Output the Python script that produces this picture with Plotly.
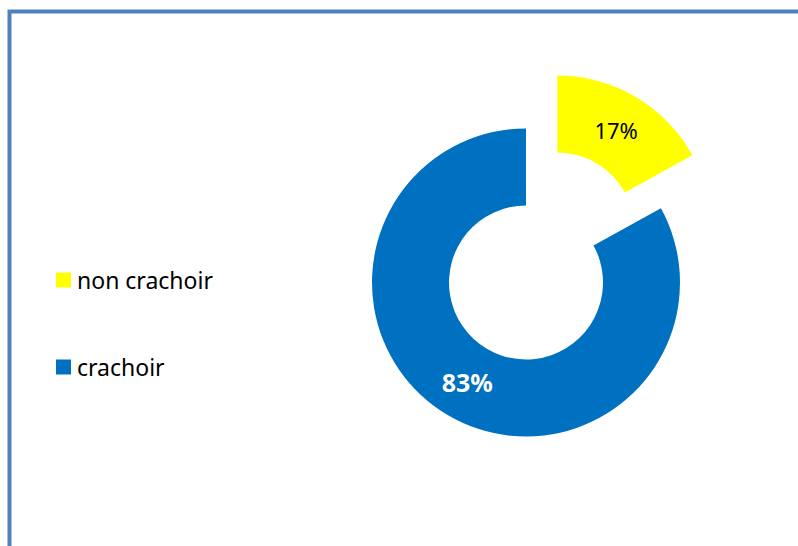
import plotly.graph_objects as go

# Chart data
labels = ["non crachoir", "crachoir"]
values = [17, 83]
colors = ["#FFFF00", "#0070C0"]
text_colors = ["#000000", "#FFFFFF"]
text_templates = ["%{percent}", "<b>%{percent}</b>"]
text_sizes = [22, 25]
pulls = [0.4, 0]

W, H = 798, 546
FONT = "Noto Sans"


def px(x):
    return x / W


def py(y):
    return 1 - y / H


# Donut: outer radius ~154 px, centred at (526, 282.5)
radius = 154
side = radius * (2 + 2 * max(pulls))
cx, cy = 526, 282.5
dom_x = [px(cx - side / 2), px(cx + side / 2)]
dom_y = [py(cy + side / 2), py(cy - side / 2)]

fig = go.Figure(
    go.Pie(
        labels=labels,
        values=values,
        marker=dict(colors=colors, line=dict(width=0)),
        hole=0.5,
        pull=pulls,
        sort=False,
        direction="clockwise",
        rotation=0,
        textinfo="percent",
        texttemplate=text_templates,
        textposition="inside",
        insidetextorientation="horizontal",
        textfont=dict(family=FONT, color=text_colors, size=text_sizes),
        domain=dict(x=dom_x, y=dom_y),
        showlegend=False,
    )
)

# Legend drawn beside the donut
shapes = []
annotations = []
legend_rows = [280, 367]
for lab, col, yc in zip(labels, colors, legend_rows):
    shapes.append(dict(
        type="rect", xref="paper", yref="paper",
        x0=px(56), x1=px(71), y0=py(yc + 7.5), y1=py(yc - 7.5),
        fillcolor=col, line=dict(width=0),
    ))
    annotations.append(dict(
        text=lab, xref="paper", yref="paper",
        x=px(75), y=py(yc), xanchor="left", yanchor="middle",
        showarrow=False, font=dict(family=FONT, size=23, color="#000000"),
    ))

# Frame: top and left edges
shapes.append(dict(
    type="path", xref="paper", yref="paper",
    path=f"M {px(9.5)} {py(560)} L {px(9.5)} {py(11.5)} L {px(820)} {py(11.5)}",
    line=dict(color="#4F81BD", width=4),
))

fig.update_layout(
    width=W, height=H, autosize=False,
    margin=dict(l=0, r=0, t=0, b=0),
    paper_bgcolor="#FFFFFF", plot_bgcolor="#FFFFFF",
    shapes=shapes, annotations=annotations,
    font=dict(family=FONT),
)

fig.write_html("out.html")
